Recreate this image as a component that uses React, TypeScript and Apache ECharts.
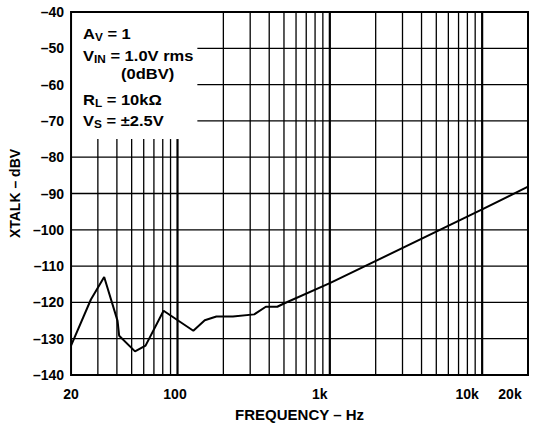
import React, { useEffect, useRef } from 'react';
import * as echarts from 'echarts';

// Crosstalk curve (frequency in Hz, XTALK in dBV)
const freqs = [20, 27, 33, 40.4, 41.4, 52.6, 61.7, 81, 127, 151, 180, 231, 319, 380, 452, 500, 1000, 10000, 20000];
const xtalk = [-131.9, -119.2, -113.0, -125.1, -129.2, -133.5, -131.9, -122.3, -127.8, -124.9, -123.9, -123.9, -123.3, -121.2, -121.2, -120.3, -114.7, -94.4, -88.1];

// Grid lines
const minorFreqs = [30, 40, 50, 60, 70, 80, 90, 200, 300, 400, 500, 600, 700, 800, 900, 2000, 3000, 4000, 5000, 6000, 7000, 8000, 9000];
const majorFreqs = [100, 1000, 10000];
const dbLevels = [-130, -120, -110, -100, -90, -80, -70, -60, -50];

// Tick labels
const xTickValues = [20, 100, 1000, 10000, 20000];
const xTickTexts = ['20', '100', '1k', '10k', '20k'];
const xTickShift = [0, 5, 20, 30, 36];

// Annotation box (cleared corner of the grid), in data units
const boxFreq = 135;
const boxDb = -75;

const FONT = '"Liberation Sans", Arial, Helvetica, sans-serif';

export default function App() {
  const ref = useRef<HTMLDivElement>(null);
  useEffect(() => {
    document.body.style.margin = '0';
    const chart = echarts.init(ref.current!, null, { renderer: 'svg' });

    const vData = [
      ...minorFreqs.map((f) => [f, f < boxFreq ? boxDb : -40, 1.3]),
      ...majorFreqs.map((f) => [f, f < boxFreq ? boxDb : -40, 2.2]),
    ];
    const hData = dbLevels.map((d) => [d > boxDb ? boxFreq : 20, d]);

    const m = { fontSize: 14, fontWeight: 'bold', fontFamily: FONT, color: '#000', lineHeight: 15 };
    const s = { fontSize: 10, fontWeight: 'bold', fontFamily: FONT, color: '#000', padding: [6, 0, 0, 0] };
    const rich = { m, s };
    const txt = (x: number, y: number, t: string) => ({
      type: 'text',
      x,
      y,
      scaleX: 1.18,
      z: 100,
      style: { text: t, rich, font: 'bold 14px ' + FONT, fill: '#000', verticalAlign: 'top', align: 'left' },
    });

    const richX: any = {};
    xTickTexts.forEach((t, i) => {
      richX['l' + i] = {
        fontSize: 14,
        fontWeight: 'bold',
        fontFamily: FONT,
        color: '#000',
        padding: [0, xTickShift[i], 0, 0],
      };
    });

    chart.setOption({
      animation: false,
      backgroundColor: '#fff',
      grid: {
        left: 69,
        right: 11,
        top: 12,
        bottom: 49,
        show: true,
        borderColor: '#000',
        borderWidth: 2,
        backgroundColor: 'transparent',
      },
      xAxis: {
        type: 'log',
        logBase: 10,
        min: 20,
        max: 20000,
        axisLine: { show: false },
        axisTick: { show: false },
        splitLine: { show: false },
        minorSplitLine: { show: false },
        axisLabel: {
          showMinLabel: true,
          showMaxLabel: true,
          margin: 12,
          formatter: (v: number) => {
            let best = 0;
            xTickValues.forEach((tv, i) => {
              if (Math.abs(Math.log10(tv) - Math.log10(v)) < Math.abs(Math.log10(xTickValues[best]) - Math.log10(v))) best = i;
            });
            return '{l' + best + '|' + xTickTexts[best] + '}';
          },
          rich: richX,
        },
        name: 'FREQUENCY – Hz',
        nameLocation: 'middle',
        nameGap: 32,
        nameTextStyle: { fontSize: 15, fontWeight: 'bold', fontFamily: FONT, color: '#000' },
      },
      yAxis: {
        type: 'value',
        min: -140,
        max: -40,
        interval: 10,
        axisLine: { show: false },
        axisTick: { show: false },
        splitLine: { show: false },
        axisLabel: {
          margin: 7,
          fontSize: 14,
          fontWeight: 'bold',
          fontFamily: FONT,
          color: '#000',
          formatter: (v: number) => String(v).replace('-', '–'),
        },
        name: 'XTALK – dBV',
        nameLocation: 'middle',
        nameGap: 49,
        nameTextStyle: { fontSize: 14, fontWeight: 'bold', fontFamily: FONT, color: '#000' },
      },
      series: [
        {
          type: 'custom',
          silent: true,
          z: 1,
          data: vData,
          encode: { x: 0, y: 1 },
          renderItem: (_p: any, api: any) => {
            const f = api.value(0);
            const top = api.value(1);
            const w = api.value(2);
            const a = api.coord([f, -140]);
            const b = api.coord([f, top]);
            return {
              type: 'line',
              shape: { x1: a[0], y1: a[1], x2: b[0], y2: b[1] },
              style: { stroke: '#000', lineWidth: w },
            };
          },
        },
        {
          type: 'custom',
          silent: true,
          z: 1,
          data: hData,
          encode: { x: 0, y: 1 },
          renderItem: (_p: any, api: any) => {
            const f = api.value(0);
            const d = api.value(1);
            const a = api.coord([f, d]);
            const b = api.coord([20000, d]);
            return {
              type: 'line',
              shape: { x1: a[0], y1: a[1], x2: b[0], y2: b[1] },
              style: { stroke: '#000', lineWidth: 1.3 },
            };
          },
        },
        {
          type: 'line',
          z: 5,
          data: freqs.map((f, i) => [f, xtalk[i]]),
          showSymbol: false,
          symbol: 'none',
          lineStyle: { color: '#000', width: 2 },
        },
      ],
      graphic: [
        txt(83, 26, '{m|A}{s|V}{m| = 1}'),
        txt(83, 48, '{m|V}{s|IN}{m| = 1.0V rms}'),
        txt(121, 66, '{m|(0dBV)}'),
        txt(83, 92, '{m|R}{s|L}{m| = 10kΩ}'),
        txt(83, 113, '{m|V}{s|S}{m| = ±2.5V}'),
      ],
    });
    return () => chart.dispose();
  }, []);
  return <div ref={ref} style={{ width: 539, height: 427 }} />;
}
